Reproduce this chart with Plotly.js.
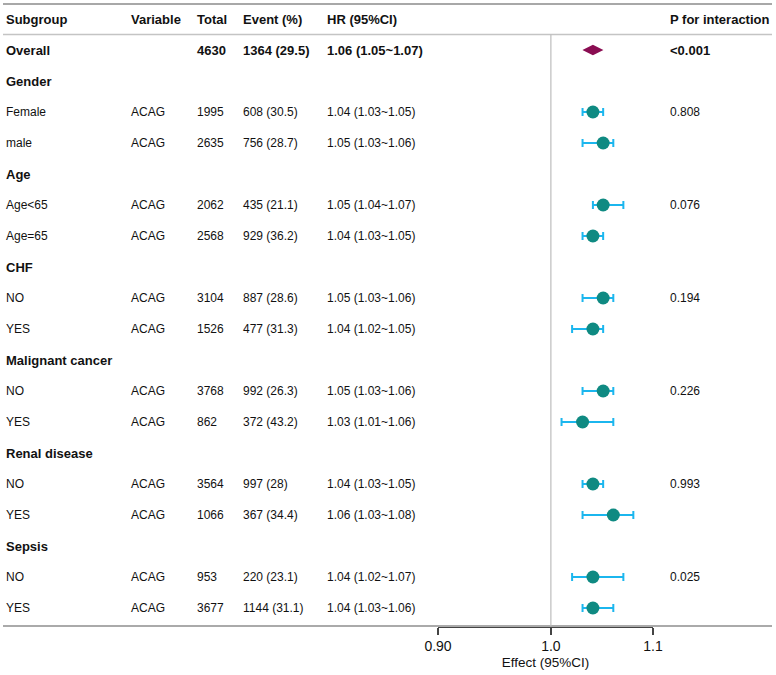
<!DOCTYPE html>
<html>
<head>
<meta charset="utf-8">
<script src="https://cdn.plot.ly/plotly-3.0.1.min.js"></script>
<style>html,body{margin:0;padding:0;background:#fff;}#chart{width:776px;height:675px;}</style>
</head>
<body>
<div id="chart"></div>
<script>
// ---- Data (rows 1..19, header row is 0) ----
const subgroups = ['Overall','Gender','Female','male','Age','Age<65','Age=65','CHF','NO','YES',
  'Malignant cancer','NO','YES','Renal disease','NO','YES','Sepsis','NO','YES'];
const boldRow = [true,true,false,false,true,false,false,true,false,false,
  true,false,false,true,false,false,true,false,false];
const variables = ['','','ACAG','ACAG','','ACAG','ACAG','','ACAG','ACAG',
  '','ACAG','ACAG','','ACAG','ACAG','','ACAG','ACAG'];
const totals = ['4630','','1995','2635','','2062','2568','','3104','1526',
  '','3768','862','','3564','1066','','953','3677'];
const events = ['1364 (29.5)','','608 (30.5)','756 (28.7)','','435 (21.1)','929 (36.2)','','887 (28.6)','477 (31.3)',
  '','992 (26.3)','372 (43.2)','','997 (28)','367 (34.4)','','220 (23.1)','1144 (31.1)'];
const hrText = ['1.06 (1.05~1.07)','','1.04 (1.03~1.05)','1.05 (1.03~1.06)','','1.05 (1.04~1.07)','1.04 (1.03~1.05)','','1.05 (1.03~1.06)','1.04 (1.02~1.05)',
  '','1.05 (1.03~1.06)','1.03 (1.01~1.06)','','1.04 (1.03~1.05)','1.06 (1.03~1.08)','','1.04 (1.02~1.07)','1.04 (1.03~1.06)'];
const pInteraction = ['<0.001','','0.808','','','0.076','','','0.194','',
  '','0.226','','','0.993','','','0.025',''];
// plotted estimates (null = no mark); overall diamond position as drawn
const est = [1.04,null,1.04,1.05,null,1.05,1.04,null,1.05,1.04,null,1.05,1.03,null,1.04,1.06,null,1.04,1.04];
const lo  = [null,null,1.03,1.03,null,1.04,1.03,null,1.03,1.02,null,1.03,1.01,null,1.03,1.03,null,1.02,1.03];
const hi  = [null,null,1.05,1.06,null,1.07,1.05,null,1.06,1.05,null,1.06,1.06,null,1.05,1.08,null,1.07,1.06];
const headers = ['Subgroup','Variable','Total','Event (%)','HR (95%CI)','P for interaction'];
const xTicks = [0.9,1.0,1.1];
const xTickText = ['0.90','1.0','1.1'];

// ---- Build ----
const W = 776;
const colX = [4,129,195,241,325,668];
const FONT = 'Liberation Sans, Arial, sans-serif';
const rows = subgroups.map((_,i)=>i+1);

const ptX=[],ptY=[],ePlus=[],eMinus=[];
for(let i=1;i<est.length;i++){
  if(est[i]!==null){ptX.push(est[i]);ptY.push(rows[i]);ePlus.push(hi[i]-est[i]);eMinus.push(est[i]-lo[i]);}
}
const traces = [
  {type:'scatter',mode:'markers',x:ptX,y:ptY,
   marker:{symbol:'circle',size:13,color:'#0F8A82'},
   error_x:{type:'data',symmetric:false,array:ePlus,arrayminus:eMinus,color:'#1BB6EE',thickness:2,width:4},
   hoverinfo:'x',showlegend:false,cliponaxis:false},
  {type:'scatter',mode:'markers',x:[est[0]],y:[rows[0]],
   marker:{symbol:'diamond-wide',size:15,color:'#8A0D52'},showlegend:false,cliponaxis:false}
];

const ann=[];
function add(text,col,row,bold,size){
  if(!text) return;
  ann.push({text: bold?'<b>'+text+'</b>':text, xref:'paper', x:colX[col]/W, xanchor:'left',
    yref:'y', y:row, yanchor:'middle', showarrow:false,
    font:{family:FONT,size:size,color:'#111'}});
}
headers.forEach((h,c)=>add(h,c,0,true,13));
subgroups.forEach((s,i)=>{
  const r=rows[i], b=boldRow[i];
  const sz = b?13:12;
  add(s,0,r,b,sz);
  add(variables[i],1,r,b,sz);
  add(totals[i],2,r,b,sz);
  add(events[i],3,r,b,sz);
  add(hrText[i],4,r,b,sz);
  add(pInteraction[i],5,r,b,sz);
});

const shapes=[
  {type:'line',xref:'paper',yref:'paper',x0:3/W,x1:772/W,y0:1,y1:1,line:{color:'#a8a8a8',width:2}},
  {type:'line',xref:'paper',yref:'y',x0:3/W,x1:772/W,y0:0.5,y1:0.5,line:{color:'#c4c4c4',width:1.5}},
  {type:'line',xref:'paper',yref:'paper',x0:3/W,x1:772/W,y0:0,y1:0,line:{color:'#aaaaaa',width:2}},
  {type:'line',xref:'x',yref:'y',x0:1,x1:1,y0:0.5,y1:19.58,line:{color:'#bdbdbd',width:1.2}}
];

const layout={
  width:776,height:675,margin:{l:0,r:0,t:4,b:49},
  paper_bgcolor:'#fff',plot_bgcolor:'rgba(0,0,0,0)',
  font:{family:FONT,size:12,color:'#111'},
  xaxis:{type:'log',domain:[438/W,653/W],range:[Math.log10(0.9),Math.log10(1.1)],
    tickvals:xTicks,ticktext:xTickText,ticks:'outside',ticklen:7,tickcolor:'#444',tickwidth:1.3,
    showline:true,linecolor:'#444',linewidth:1.5,showgrid:false,zeroline:false,
    tickfont:{family:FONT,size:14,color:'#111'},
    title:{text:'Effect (95%CI)',font:{family:FONT,size:13.5,color:'#111'},standoff:4}},
  yaxis:{range:[19.58,-0.484],visible:false,showgrid:false,zeroline:false},
  shapes:shapes,annotations:ann,showlegend:false
};
Plotly.newPlot('chart',traces,layout,{staticPlot:true});
</script>
</body>
</html>
